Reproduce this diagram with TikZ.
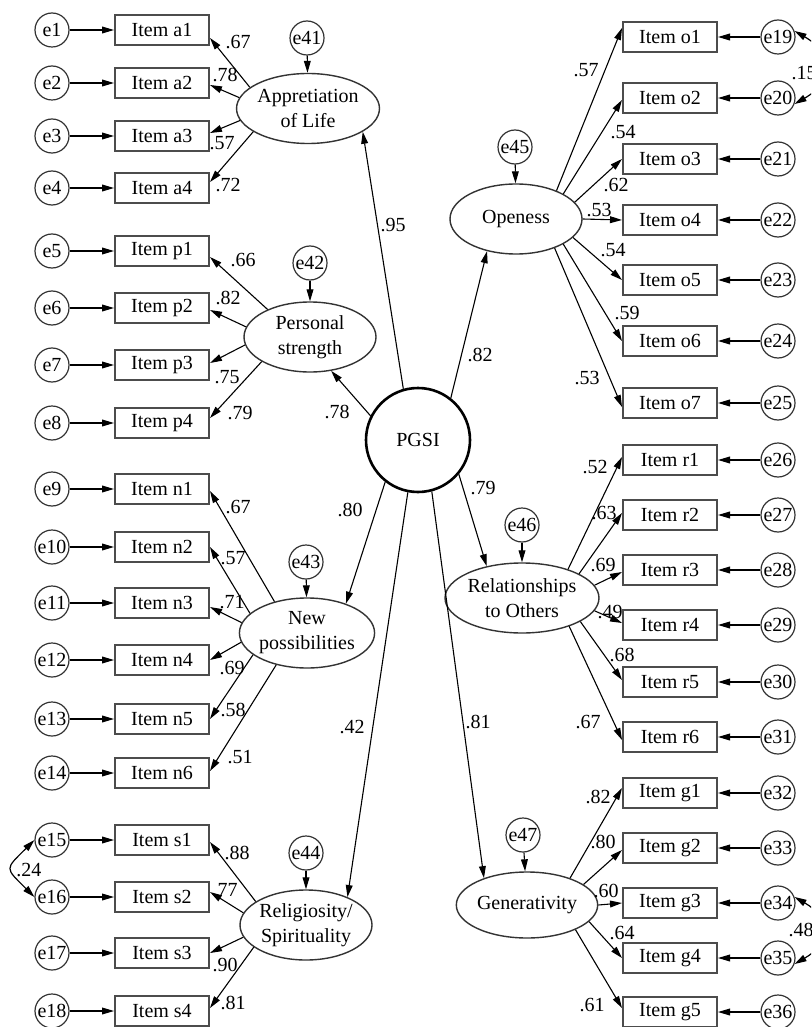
\documentclass[tikz,border=0pt]{standalone}
\usepackage{fontspec}
\setmainfont{Liberation Serif}
\usetikzlibrary{shapes.geometric,arrows.meta}
\begin{document}
\begin{tikzpicture}[x=0.5pt,y=-0.5pt,font=\fontsize{10}{12.5}\selectfont,
  obs/.style={draw=black!70,line width=1pt,minimum width=47pt,minimum height=15pt,inner sep=0pt},
  err/.style={circle,draw=black!80,line width=0.6pt,minimum size=17pt,inner sep=0pt},
  lat/.style={ellipse,draw=black!80,line width=0.7pt,minimum width=66pt,minimum height=35pt,inner sep=0pt,align=center},
  pth/.style={-{Triangle[length=6pt,width=3.4pt]},line width=0.55pt},
  cov/.style={{Triangle[length=6pt,width=3.4pt]}-{Triangle[length=6pt,width=3.4pt]},line width=0.6pt},
  lbl/.style={inner sep=0pt}]
\clip (0,0) rectangle (811,1027);
\fill[white] (0,0) rectangle (811,1027);

% ---------- latent variables ----------
\node[circle,draw,line width=1.3pt,minimum size=52pt,inner sep=0pt] (pgsi) at (418,440) {PGSI};
\node[lat] (apl) at (308,108.5) {Appretiation\\of Life};
\node[lat] (ps) at (310,337) {Personal\\strength};
\node[lat] (np) at (307,633) {New\\possibilities};
\node[lat] (rs) at (306,925) {Religiosity/\\Spirituality};
\node[lat] (op) at (516,219) {Openess};
\node[lat] (ro) at (522,598) {Relationships\\to Others};
\node[lat,minimum width=62pt,minimum height=33pt] (gen) at (527,905) {Generativity};

\node[err] (e41) at (307,38) {e41};
\node[err] (e42) at (310,263) {e42};
\node[err] (e43) at (306,562) {e43};
\node[err] (e44) at (306,853) {e44};
\node[err] (e45) at (515,147) {e45};
\node[err] (e46) at (522,525) {e46};
\node[err] (e47) at (523,835) {e47};

\foreach \e/\l in {e41/apl,e42/ps,e43/np,e44/rs,e45/op,e46/ro,e47/gen}
  \draw[pth] (\e) -- (\l);

% ---------- left items ----------
\foreach \n/\t/\e/\y in {a1/Item a1/e1/30, a2/Item a2/e2/83, a3/Item a3/e3/136, a4/Item a4/e4/188,
  p1/Item p1/e5/251, p2/Item p2/e6/308, p3/Item p3/e7/365, p4/Item p4/e8/423,
  n1/Item n1/e9/489, n2/Item n2/e10/547, n3/Item n3/e11/603, n4/Item n4/e12/660, n5/Item n5/e13/719, n6/Item n6/e14/773,
  s1/Item s1/e15/840, s2/Item s2/e16/897, s3/Item s3/e17/953, s4/Item s4/e18/1011}{
  \node[obs] (\n) at (162,\y) {\t};
  \node[err] (\e) at (52,\y) {\e};
  \draw[pth] (\e) -- (\n);
}

% ---------- right items ----------
\foreach \n/\t/\e/\y in {o1/Item o1/e19/37, o2/Item o2/e20/98, o3/Item o3/e21/159, o4/Item o4/e22/220, o5/Item o5/e23/280, o6/Item o6/e24/341, o7/Item o7/e25/403,
  r1/Item r1/e26/460, r2/Item r2/e27/515, r3/Item r3/e28/570, r4/Item r4/e29/625, r5/Item r5/e30/682, r6/Item r6/e31/737,
  g1/Item g1/e32/793, g2/Item g2/e33/848, g3/Item g3/e34/903, g4/Item g4/e35/958, g5/Item g5/e36/1012}{
  \node[obs] (\n) at (670,\y) {\t};
  \node[err] (\e) at (778,\y) {\e};
  \draw[pth] (\e) -- (\n);
}

% ---------- loadings left ----------
\draw[pth] (apl.160) -- ([yshift=-4pt]a1.east);
\draw[pth] (apl.171) -- ([yshift=-1pt]a2.east);
\draw[pth] (apl.190) -- ([yshift=1.5pt]a3.east);
\draw[pth] (apl.203) -- ([yshift=3pt]a4.east);
\draw[pth] (ps.147) -- ([yshift=-3pt]p1.east);
\draw[pth] (ps.171) -- ([yshift=-1pt]p2.east);
\draw[pth] (ps.187) -- ([yshift=1pt]p3.east);
\draw[pth] (ps.207) -- ([yshift=2.5pt]p4.east);
\draw[pth] (np.136) -- ([yshift=-1pt]n1.east);
\draw[pth] (np.161) -- (n2.east);
\draw[pth] (np.171) -- ([yshift=-2pt]n3.east);
\draw[pth] (np.188) -- (n4.east);
\draw[pth] (np.202) -- (n5.east);
\draw[pth] (np.226) -- ([yshift=1pt]n6.east);
\draw[pth] (rs.155) -- ([yshift=-1pt]s1.east);
\draw[pth] (rs.169) -- ([yshift=2.5pt]s2.east);
\draw[pth] (rs.191) -- (s3.east);
\draw[pth] (rs.203) -- ([yshift=1.5pt]s4.east);

% ---------- loadings right ----------
\draw[pth] (op.35) -- ([yshift=4.5pt]o1.west);
\draw[pth] (op.28) -- ([yshift=-1pt]o2.west);
\draw[pth] (op.16) -- (o3.west);
\draw[pth] (op.0) -- (o4.west);
\draw[pth] (op.342) -- (o5.west);
\draw[pth] (op.332) -- (o6.west);
\draw[pth] (op.323) -- ([yshift=-2pt]o7.west);
\draw[pth] (ro.32) -- ([yshift=1.5pt]r1.west);
\draw[pth] (ro.23) -- ([yshift=1pt]r2.west);
\draw[pth] (ro.10) -- ([yshift=-1pt]r3.west);
\draw[pth] (ro.350) -- ([yshift=1pt]r4.west);
\draw[pth] (ro.338) -- ([yshift=1pt]r5.west);
\draw[pth] (ro.329) -- ([yshift=-1.5pt]r6.west);
\draw[pth] (gen.32) -- ([yshift=2.5pt]g1.west);
\draw[pth] (gen.20) -- ([yshift=-1pt]g2.west);
\draw[pth] (gen.0) -- (g3.west);
\draw[pth] (gen.345) -- (g4.west);
\draw[pth] (gen.333) -- ([yshift=2pt]g5.west);

% ---------- structural paths ----------
\draw[pth] (pgsi.106) -- (apl.337.5);
\draw[pth] (pgsi.153) -- (ps.302);
\draw[pth] (pgsi.52) -- (op.228);
\draw[pth] (pgsi.320) -- (ro.138);
\draw[pth] (pgsi.232.5) -- (np.37);
\draw[pth] (pgsi.259) -- (rs.34);
\draw[pth] (pgsi.285) -- (gen.148.5);

% ---------- covariances ----------
\draw[cov] (e15.180) to[out=225,in=135,looseness=1.9] (e16.180);
\draw[cov] (e19.20) to[out=-30,in=30,looseness=1.6] (e20.-20);
\draw[cov] (e34.20) to[out=-30,in=30,looseness=1.6] (e35.-20);

% ---------- labels ----------
\foreach \x/\y/\t in {238/42/.67, 225/75/.78, 222/143/.57, 228/185/.72,
  243/260/.66, 228/298/.82, 227/377/.75, 240/413/.79,
  238/507/.67, 233/558/.57, 232/602/.71, 232/668/.69, 233/710/.58, 240/757/.51,
  237/853/.88, 225/890/.77, 225/965/.90, 233/1003/.81,
  586/70/.57, 623/132/.54, 616/185/.62, 599/210/.53, 613/250/.54, 627/313/.59, 587/378/.53,
  595/467/.52, 604/513/.63, 603/565/.69, 610/612/.49, 622/655/.68, 588/722/.67,
  598/797/.82, 603/842/.80, 606/891/.60, 622/933/.64, 592/1005/.61,
  393/225/.95, 337/412/.78, 480/355/.82, 483/488/.79, 350/510/.80, 352/727/.42, 478/722/.81,
  29/870/.24, 804/73/.15, 801/930/.48}
  \node[lbl] at (\x,\y) {\t};
\end{tikzpicture}
\end{document}
